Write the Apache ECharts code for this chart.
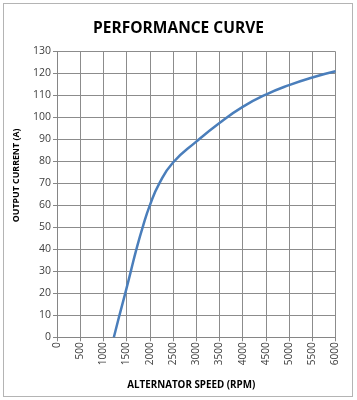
<!DOCTYPE html>
<html><head><meta charset="utf-8">
<script src="https://cdn.jsdelivr.net/npm/echarts@6/dist/echarts.min.js"></script>
<style>html,body{margin:0;padding:0;background:#fff}#frame{position:absolute;left:3px;top:3px;width:348px;height:392px;border:1.5px solid #b4b4b4;}#c{position:absolute;left:0;top:0;width:357px;height:400px}</style>
</head><body><div id="frame"></div><div id="c"></div>
<script>
const title = "PERFORMANCE CURVE";
const xName = "ALTERNATOR SPEED (RPM)";
const yName = "OUTPUT CURRENT (A)";
const speed = [1225, 1345, 1470, 1590, 1710, 1845, 2000, 2205, 2500, 3000, 3500, 4000, 4500, 5000, 5500, 6000];
const current = [0, 10, 20, 30, 40, 50, 60, 70, 79.5, 89, 97.5, 104.8, 110.4, 114.7, 118.2, 121];
const chart = echarts.init(document.getElementById('c'), null, {renderer: 'canvas'});
const font = "Open Sans";
chart.setOption({
  animation: false,
  title: {text: title, left: 'center', top: 16, textStyle: {fontFamily: font, fontWeight: 'bold', fontSize: 15.5, color: '#000'}},
  grid: {left: 57, right: 21.5, top: 51.5, bottom: 62.7},
  xAxis: {type: 'value', min: 0, max: 6000, interval: 500,
    name: xName, nameLocation: 'middle', nameGap: 43,
    nameTextStyle: {fontFamily: font, fontWeight: 'bold', fontSize: 9.8, color: '#000', padding: [0, 10, 0, 0]},
    axisLine: {show: true, lineStyle: {color: '#868686'}},
    axisTick: {show: true, length: 4, lineStyle: {color: '#868686'}},
    axisLabel: {rotate: 90, fontFamily: font, fontSize: 10, color: '#404040', margin: 5, formatter: v => String(v)},
    splitLine: {show: true, lineStyle: {color: '#8c8c8c', width: 1}}},
  yAxis: {type: 'value', min: 0, max: 130, interval: 10,
    name: yName, nameLocation: 'middle', nameGap: 36,
    nameTextStyle: {fontFamily: font, fontWeight: 'bold', fontSize: 8.8, color: '#000', padding: [0, 0, 0, 38]},
    axisLine: {show: true, lineStyle: {color: '#868686'}},
    axisTick: {show: true, length: 4, lineStyle: {color: '#868686'}},
    axisLabel: {fontFamily: font, fontSize: 10.5, color: '#404040', margin: 6, formatter: v => String(v)},
    splitLine: {show: true, lineStyle: {color: '#8c8c8c', width: 1}}},
  series: [{type: 'line', data: speed.map((s, i) => [s, current[i]]), smooth: 0.5, showSymbol: false,
    lineStyle: {color: '#4a7ebb', width: 2.5}}]
});
</script></body></html>
